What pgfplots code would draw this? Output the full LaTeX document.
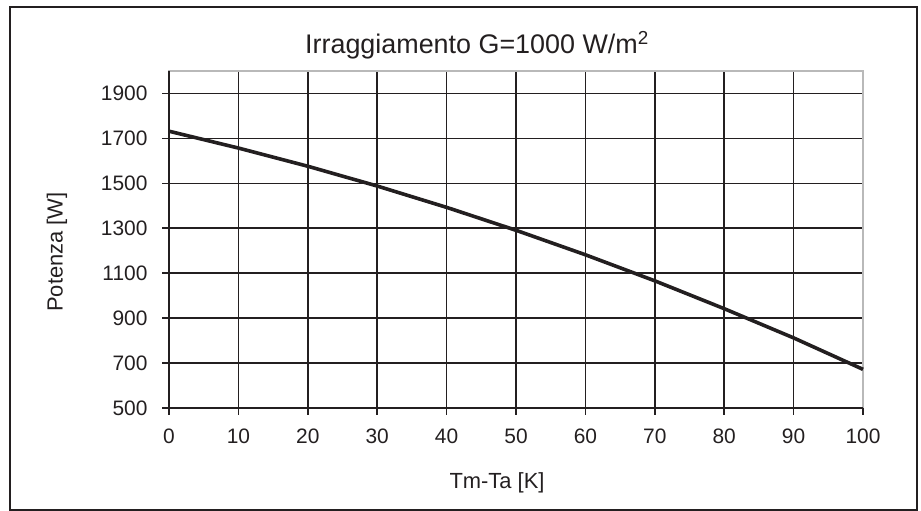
\documentclass[border=0pt]{standalone}
\usepackage{pgfplots}
\pgfplotsset{compat=1.18}
\usepackage{fontspec}
\setmainfont{Liberation Sans}
\definecolor{ink}{HTML}{231F20}
\begin{document}
\begin{tikzpicture}[x=1bp,y=1bp]
\useasboundingbox (0,0) rectangle (921,511);
\draw[ink,line width=2bp] (10,504) rectangle (917,1);
\begin{axis}[
  at={(169bp,103bp)}, anchor=south west,
  scale only axis, width=694bp, height=337bp,
  xmin=0, xmax=100, ymin=500, ymax=2000,
  xtick={0,10,...,90}, extra x ticks={100}, extra x tick style={grid=none},
  ytick={500,700,...,1900},
  grid=major,
  major grid style={ink, line width=1.6bp},
  axis line style={gray!55, line width=1.5bp},
  tick align=outside, tick pos=left,
  major tick length=7bp,
  every tick/.style={ink, line width=1.6bp},
  ticklabel style={font=\fontsize{21}{25}\selectfont, text=ink},
  /pgf/number format/assume math mode=true,
  /pgf/number format/1000 sep={},
  yticklabel style={xshift=-11bp},
  xticklabel style={yshift=-10bp},
  clip=false,
]
\addplot[ink, line width=3.6bp] coordinates {
(0,1732) (10,1657) (20,1576) (30,1488) (40,1393) (50,1291) (60,1182) (70,1066) (80,942) (90,812) (100,672)
};
\draw[ink, line width=1.6bp] (rel axis cs:0,1) -- (rel axis cs:0,0) -- (rel axis cs:1,0);
\end{axis}
\node[text=ink, font=\fontsize{27}{32}\selectfont] at (477,466) {Irraggiamento G=1000 W/m\textsuperscript{2}};
\node[text=ink, font=\fontsize{22}{26}\selectfont] at (497,28) {Tm-Ta [K]};
\node[text=ink, font=\fontsize{22}{26}\selectfont, rotate=90] at (57,259) {Potenza [W]};
\end{tikzpicture}
\end{document}
